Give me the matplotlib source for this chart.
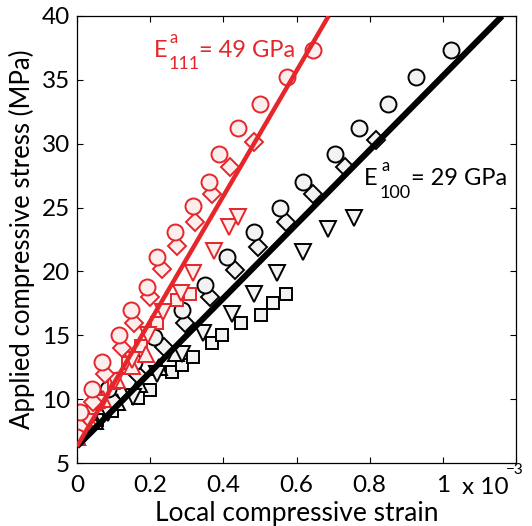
import matplotlib
matplotlib.use("Agg")
import matplotlib.pyplot as plt
import numpy as np

plt.rcParams['font.family'] = ['Lato', 'DejaVu Sans']

# strain in units of 1e-3, stress in MPa
# <100> oriented grains (black)
bc_x = [0, 0.033, 0.085, 0.156, 0.211, 0.288, 0.351, 0.411, 0.485, 0.556, 0.619, 0.704, 0.770, 0.849, 0.926, 1.022]
bc_y = [7, 8.9, 10.8, 12.9, 14.9, 17.0, 18.9, 21.1, 23.1, 25.0, 27.0, 29.2, 31.2, 33.1, 35.2, 37.3]
bd_x = [0, 0.040, 0.096, 0.164, 0.238, 0.296, 0.364, 0.433, 0.496, 0.570, 0.644, 0.732, 0.816]
bd_y = [7, 8.0, 9.9, 12.0, 14.1, 16.0, 18.0, 20.1, 21.9, 23.9, 26.1, 28.2, 30.3]
bt_x = [0, 0.085, 0.153, 0.219, 0.288, 0.345, 0.425, 0.485, 0.548, 0.619, 0.685, 0.756]
bt_y = [7, 8.9, 10.2, 12.0, 13.5, 15.2, 16.7, 18.2, 19.9, 21.5, 23.3, 24.2]
bu_x = [0, 0.050, 0.110, 0.170, 0.225, 0.270]
bu_y = [7, 8.3, 9.8, 11.2, 12.5, 13.6]
bs_x = [0, 0.011, 0.055, 0.096, 0.167, 0.200, 0.260, 0.288, 0.318, 0.370, 0.397, 0.449, 0.504, 0.537, 0.570]
bs_y = [7, 7.6, 8.4, 9.1, 10.1, 10.7, 12.1, 12.7, 13.3, 14.4, 15.0, 16.0, 16.6, 17.5, 18.2]

# <111> oriented grains (red)
rc_x = [0, 0.008, 0.041, 0.068, 0.115, 0.148, 0.192, 0.219, 0.268, 0.318, 0.362, 0.389, 0.441, 0.501, 0.575, 0.644]
rc_y = [7, 9.0, 10.8, 12.9, 15.0, 17.0, 18.8, 21.1, 23.1, 25.1, 27.0, 29.2, 31.2, 33.1, 35.2, 37.3]
rd_x = [0, 0.008, 0.044, 0.077, 0.123, 0.156, 0.200, 0.233, 0.274, 0.323, 0.370, 0.419, 0.485]
rd_y = [7, 7.8, 9.8, 12.0, 14.0, 16.0, 18.0, 20.2, 22.0, 23.9, 26.1, 28.2, 30.1]
rt_x = [0, 0.030, 0.065, 0.105, 0.150, 0.195, 0.236, 0.285, 0.318, 0.375, 0.416, 0.441]
rt_y = [7, 8.2, 9.7, 11.4, 13.1, 15.0, 16.8, 18.3, 19.9, 21.6, 23.5, 24.3]
rs_x = [0, 0.025, 0.060, 0.100, 0.140, 0.175, 0.219, 0.274, 0.310]
rs_y = [7, 8.3, 9.8, 11.3, 12.8, 14.2, 16.0, 17.8, 18.2]
ru_x = [0, 0.030, 0.070, 0.110, 0.150, 0.189]
ru_y = [7, 8.5, 10.0, 11.5, 12.6, 13.5]

# linear fits: apparent moduli (GPa) and common intercept (MPa)
E100 = 29
E111 = 49
intercept = 6.3

x_ticks = [0, 0.2, 0.4, 0.6, 0.8, 1.0, 1.2]
x_ticklabels = ['0', '0.2', '0.4', '0.6', '0.8', '1', '']
y_ticks = [5, 10, 15, 20, 25, 30, 35, 40]

RED = '#e5262a'
RED_FILL = '#fdeeee'
BLK_FILL = '#f2f2f2'

W, H = 532, 526
fig = plt.figure(figsize=(W / 100, H / 100), dpi=100)
ax = fig.add_axes([77 / W, 63 / H, 439 / W, 447 / H])

ms = {'o': 11.5, 'D': 8.8, 'v': 11.5, 's': 9.0, '^': 11.5}
mew = 1.4

def series(x, y, marker, edge, fill):
    ax.plot(x, y, linestyle='none', marker=marker, markersize=ms[marker],
            markeredgecolor=edge, markerfacecolor=fill, markeredgewidth=mew,
            zorder=2)

for x, y, m in [(bs_x, bs_y, 's'), (bu_x, bu_y, '^'), (bt_x, bt_y, 'v'),
                (bd_x, bd_y, 'D'), (bc_x, bc_y, 'o')]:
    series(x, y, m, 'black', BLK_FILL)
for x, y, m in [(rs_x, rs_y, 's'), (ru_x, ru_y, '^'), (rt_x, rt_y, 'v'),
                (rd_x, rd_y, 'D'), (rc_x, rc_y, 'o')]:
    series(x, y, m, RED, RED_FILL)

xb = np.array([0, (40 - intercept) / E100])
ax.plot(xb, intercept + E100 * xb, color='black', linewidth=4.4, zorder=3,
        solid_capstyle='butt')
xr = np.array([0, (40 - intercept) / E111])
ax.plot(xr, intercept + E111 * xr, color=RED, linewidth=3.2, zorder=3,
        solid_capstyle='butt')

ax.set_xlim(0, 1.2)
ax.set_ylim(5, 40)
ax.set_xticks(x_ticks)
ax.set_xticklabels(x_ticklabels)
ax.set_yticks(y_ticks)
ax.tick_params(direction='in', length=4, width=0.8, top=True, right=True,
               labelsize=17.5)
ax.tick_params(axis='x', pad=9)
ax.tick_params(axis='y', pad=5)
for sp in ax.spines.values():
    sp.set_linewidth(0.9)

ax.set_xlabel('Local compressive strain', fontsize=19, labelpad=3)
ax.set_ylabel('Applied compressive stress (MPa)', fontsize=18.5, labelpad=5)


def ftext(px, py, s, size, color='black'):
    fig.text(px / W, 1 - py / H, s, fontsize=size, color=color,
             ha='left', va='baseline')


# exponent label of the strain axis
ftext(462, 494, 'x 10', 17.5)
ftext(506, 474, '\u22123', 11)

# modulus annotations: E with stacked superscript/subscript
ftext(154, 57, 'E', 17, RED)
ftext(170, 43, 'a', 12, RED)
ftext(169, 69, '111', 13, RED)
ftext(199, 57, '= %d GPa' % E111, 17, RED)

ftext(364, 185, 'E', 17)
ftext(381, 171, 'a', 12)
ftext(380, 198, '100', 13)
ftext(411, 185, '= %d GPa' % E100, 17)

fig.savefig('out.png', dpi=100)
